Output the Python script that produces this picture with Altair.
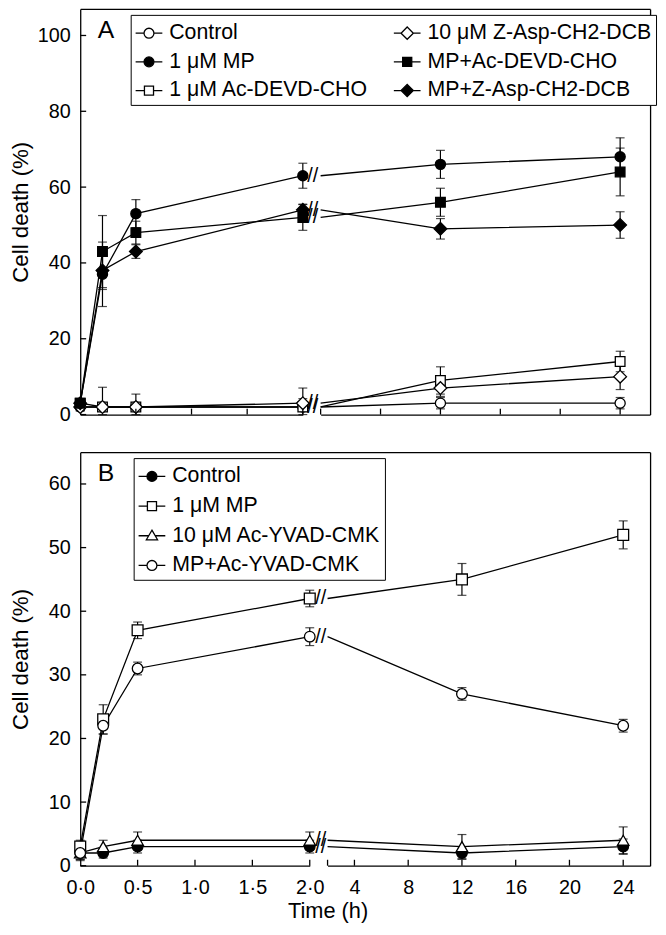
import altair as alt
import pandas as pd

FONT = "Liberation Sans"

times = [0, 0.2, 0.5, 2, 12, 24]

# ---------------- Panel A ----------------
a_names = ["Control", "1 μM MP", "1 μM Ac-DEVD-CHO", "10 μM Z-Asp-CH2-DCB",
           "MP+Ac-DEVD-CHO", "MP+Z-Asp-CH2-DCB"]
a_control = [2, 2, 2, 2, 3, 3]
a_control_err = [1, 1, 1, 1, 1.5, 1.5]
a_mp = [3, 37, 53, 63, 66, 68]
a_mp_err = [0.8, 8.5, 3.7, 3.3, 3.7, 5]
a_devd = [3, 2, 2, 2, 9, 14]
a_devd_err = [1, 5.2, 3.4, 5, 3.6, 2.7]
a_zasp = [2, 2, 2, 3, 7, 10]
a_zasp_err = [1, 1, 1, 1.2, 2.2, 3.4]
a_mp_devd = [3, 43, 48, 52, 56, 64]
a_mp_devd_err = [1, 9.5, 3, 3.4, 3.7, 6.3]
a_mp_zasp = [3, 38, 43, 54, 49, 50]
a_mp_zasp_err = [1, 5, 1.8, 1.5, 2.7, 3.5]
a_yticks = [0, 20, 40, 60, 80, 100]

# ---------------- Panel B ----------------
b_names = ["Control", "1 μM MP", "10 μM Ac-YVAD-CMK", "MP+Ac-YVAD-CMK"]
b_control = [2, 2, 3, 3, 2, 3]
b_control_err = [1.2, 0.8, 1, 1, 1, 1.2]
b_mp = [3, 23, 37, 42, 45, 52]
b_mp_err = [1, 2.3, 1.3, 1.3, 2.5, 2.2]
b_yvad = [2, 3, 4, 4, 3, 4]
b_yvad_err = [1, 1, 1.3, 1.3, 1.9, 2.1]
b_mp_yvad = [2, 22, 31, 36, 27, 22]
b_mp_yvad_err = [1, 1.3, 1, 1.4, 1, 1]
b_yticks = [0, 10, 20, 30, 40, 50, 60]

left_ticks = [0.5, 1.0, 1.5, 2.0]
left_labels = [0, 0.5, 1.0, 1.5, 2.0]
a_right_ticks = [4, 8, 12, 16, 20, 24]
b_right_ticks = [2, 4, 8, 12, 16, 20, 24]
b_right_labels = [4, 8, 12, 16, 20, 24]

# styles
a_shapes = ["circle", "circle", "square", "diamond", "square", "diamond"]
a_fills = ["white", "black", "white", "white", "black", "black"]
a_sizes = [105, 105, 95, 165, 95, 165]
b_shapes = ["circle", "square", "triangle-up", "circle"]
b_fills = ["black", "white", "white", "white"]
b_sizes = [115, 120, 135, 115]

STUB = {
    "circle": "M-1,0H-0.37M0.37,0H1M0.37,0A0.37,0.37,0,1,1,-0.37,0A0.37,0.37,0,1,1,0.37,0Z",
    "square": "M-1,0H-0.34M0.34,0H1M-0.34,-0.34H0.34V0.34H-0.34Z",
    "diamond": "M-1,0H-0.46M0.46,0H1M0,-0.46L0.46,0L0,0.46L-0.46,0Z",
    "triangle-up": "M-1,0H-0.25M0.25,0H1M0,-0.42L0.42,0.3H-0.42Z",
}

W = 576


def long_df(names, vals, errs):
    rows = []
    for n, vs, es in zip(names, vals, errs):
        for t, v, e in zip(times, vs, es):
            rows.append({"series": n, "t": t, "v": v,
                         "lo": max(v - e, 0), "hi": v + e})
    return pd.DataFrame(rows)


def panel(df, names, shapes, fills, sizes, ymax, yticks,
          px2, rmin, pxs, H, letter, xlab, rticks, rlabels,
          brk_dx, leg_cols, leg_rowpad, leg_x, leg_y):
    ysc = alt.Scale(domain=[0, ymax], nice=False, zero=False)
    lsc = alt.Scale(domain=[0, 2], range=[0, px2], nice=False, zero=False)
    rsc = alt.Scale(domain=[rmin, 26], range=[pxs, W], nice=False, zero=False)
    rsc_clamp = alt.Scale(domain=[rmin, 26], range=[pxs, W], nice=False,
                          zero=False, clamp=True)
    one = pd.DataFrame({"k": [0]})

    yaxis = alt.Axis(orient="left", values=yticks, ticks=False, grid=False,
                     labelPadding=10, minExtent=43, maxExtent=43,
                     title="Cell death (%)", titlePadding=5, titleFontSize=22.5,
                     domainColor="black", domainWidth=1.3)
    if xlab:
        lxaxis = alt.Axis(orient="bottom", values=left_labels, grid=False,
                          ticks=False, domain=True, domainColor="black",
                          domainWidth=1.3, labelFlush=False, labelPadding=12,
                          labelExpr="replace(format(datum.value, '.1f'), '.', '·')",
                          title="Time (h)", titleX=250, titleAlign="center",
                          titlePadding=3)
        rxaxis = alt.Axis(orient="bottom", values=rlabels, grid=False,
                          ticks=False, domain=True, domainColor="black",
                          domainWidth=1.3, labelFlush=False, labelPadding=12,
                          title=None)
    else:
        lxaxis = alt.Axis(orient="bottom", values=left_labels, grid=False,
                          ticks=False, domain=True, domainColor="black",
                          domainWidth=1.3, labels=False, title=None)
        rxaxis = alt.Axis(orient="bottom", values=rticks, grid=False,
                          ticks=False, domain=True, domainColor="black",
                          domainWidth=1.3, labels=False, title=None)
    top_axis = alt.Axis(orient="top", labels=False, ticks=False, grid=False,
                        domain=True, domainColor="black", domainWidth=1.3,
                        title=None)
    right_axis = alt.Axis(orient="right", labels=False, ticks=False, grid=False,
                          domain=True, domainColor="black", domainWidth=1.3,
                          title=None)

    layers = []
    yv = alt.Y("v:Q", scale=ysc, axis=None)

    def segment(data_pts, data_line, xsc, xsc_line, xaxis, with_y_axis):
        lx = alt.X("t:Q", scale=xsc, axis=None)
        out = []
        out.append(data_pts.mark_rule(color="black", strokeWidth=1.2).encode(
            x=lx, y=alt.Y("lo:Q", scale=ysc, axis=None), y2="hi:Q"))
        for fld in ["lo", "hi"]:
            out.append(data_pts.mark_tick(orient="horizontal", size=9,
                                          thickness=1.2, color="black").encode(
                x=lx, y=alt.Y(f"{fld}:Q", scale=ysc, axis=None)))
        out.append(data_line.mark_line(color="black", strokeWidth=1.3).encode(
            x=alt.X("t:Q", scale=xsc_line, axis=xaxis),
            y=alt.Y("v:Q", scale=ysc, axis=yaxis if with_y_axis else None),
            detail="series:N"))
        for n, s, f, z in zip(names, shapes, fills, sizes):
            out.append(data_pts.transform_filter(alt.datum.series == n).mark_point(
                shape=s, filled=True, fill=f, size=z, stroke="black",
                strokeWidth=1.3, opacity=1).encode(x=lx, y=yv))
        return out

    lbase = alt.Chart(df[df.t <= 2])
    layers += segment(lbase, lbase, lsc, lsc, lxaxis, True)
    layers += segment(alt.Chart(df[df.t >= 12]), alt.Chart(df[df.t >= 2]),
                      rsc, rsc_clamp, rxaxis, False)

    # break marks at the 2 h values
    brk = df[df.t == 2].drop_duplicates(subset="v")
    layers.append(alt.Chart(brk).mark_text(
        text="//", dx=brk_dx, font=FONT, fontSize=20, color="black",
        align="center", baseline="middle").encode(
        x=alt.X("t:Q", scale=lsc, axis=None), y=yv))
    # inward ticks
    layers.append(alt.Chart(pd.DataFrame({"v": yticks})).mark_rule(
        color="black", strokeWidth=1.3).encode(
        y=yv, x=alt.value(0), x2=alt.value(6)))
    layers.append(alt.Chart(pd.DataFrame({"t": left_ticks})).mark_rule(
        color="black", strokeWidth=1.3).encode(
        x=alt.X("t:Q", scale=lsc, axis=None), y=alt.value(H), y2=alt.value(H - 6)))
    layers.append(alt.Chart(pd.DataFrame({"t": rticks})).mark_rule(
        color="black", strokeWidth=1.3).encode(
        x=alt.X("t:Q", scale=rsc, axis=None), y=alt.value(H), y2=alt.value(H - 6)))
    # frame top / right (axes with domain only)
    layers.append(alt.Chart(one).mark_point(opacity=0, size=0).encode(
        x=alt.X("k:Q", scale=alt.Scale(domain=[0, 1]), axis=top_axis),
        y=alt.value(H / 2)))
    layers.append(alt.Chart(one).mark_point(opacity=0, size=0).encode(
        y=alt.Y("k:Q", scale=ysc, axis=right_axis), x=alt.value(W / 2)))
    # panel letter
    layers.append(alt.Chart(one).mark_text(
        text=letter, font=FONT, fontSize=25, color="black", align="center",
        baseline="middle").encode(x=alt.value(26), y=alt.value(21)))
    # legend (legend-only layer)
    leg_shapes = [STUB[s] for s in shapes]
    leg = alt.Legend(title=None, orient="none", legendX=leg_x, legendY=leg_y,
                     columns=leg_cols, columnPadding=22, rowPadding=leg_rowpad,
                     symbolSize=729, symbolStrokeWidth=1.3, symbolOpacity=1,
                     labelFont=FONT, labelFontSize=21.5, labelColor="black",
                     labelLimit=600, labelOffset=6, padding=4,
                     strokeColor="black", fillColor="white")
    layers.append(lbase.transform_filter("false").mark_point(
        filled=True, stroke="black", strokeWidth=1.3, size=729, opacity=1).encode(
        x=alt.X("t:Q", scale=lsc, axis=None), y=yv,
        shape=alt.Shape("series:N", scale=alt.Scale(domain=names, range=leg_shapes),
                        legend=leg),
        fill=alt.Fill("series:N", scale=alt.Scale(domain=names, range=fills),
                      legend=leg),
        stroke=alt.Stroke("series:N",
                          scale=alt.Scale(domain=names, range=["black"] * len(names)),
                          legend=leg)))
    return alt.layer(*layers).resolve_scale(x="independent").resolve_axis(
        x="independent", y="independent").properties(width=W, height=H)


dfa = long_df(a_names, [a_control, a_mp, a_devd, a_zasp, a_mp_devd, a_mp_zasp],
              [a_control_err, a_mp_err, a_devd_err, a_zasp_err, a_mp_devd_err, a_mp_zasp_err])
dfb = long_df(b_names, [b_control, b_mp, b_yvad, b_mp_yvad],
              [b_control_err, b_mp_err, b_yvad_err, b_mp_yvad_err])

panel_a = panel(dfa, a_names, a_shapes, a_fills, a_sizes, 107, a_yticks,
                225, 4, 243, 410, "A", False, a_right_ticks, None,
                10, 2, 4, 51, 6)
panel_b = panel(dfb, b_names, b_shapes, b_fills, b_sizes, 65, b_yticks,
                232, 2, 250, 418, "B", True, b_right_ticks, b_right_labels,
                11, 1, 5, 54, 6)

chart = alt.vconcat(panel_a, panel_b, spacing=28).resolve_scale(
    shape="independent", fill="independent", stroke="independent"
).properties(
    padding={"left": 2, "top": -4, "right": 1, "bottom": 1}
).configure_view(stroke=None).configure_axis(
    labelFont=FONT, titleFont=FONT, labelFontSize=20, titleFontSize=22,
    titleFontWeight="normal", labelColor="black", titleColor="black"
)

chart.save("out.html", embed_options={"renderer": "svg", "actions": False})
